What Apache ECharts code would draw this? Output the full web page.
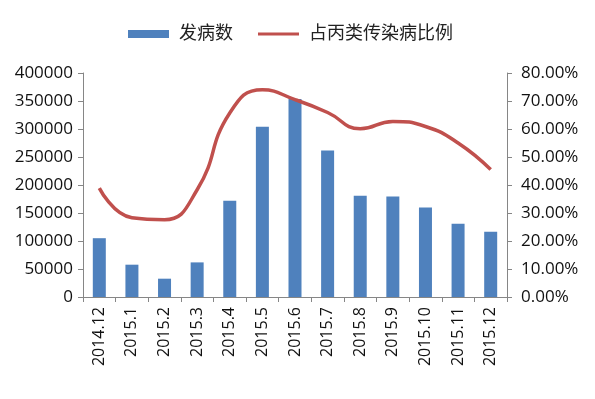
<!DOCTYPE html>
<html>
<head>
<meta charset="utf-8">
<script src="https://cdn.jsdelivr.net/npm/echarts@6/dist/echarts.min.js"></script>
<style>
  html, body { margin: 0; padding: 0; background: #fff; }
  #chart { width: 595px; height: 399px; }
</style>
</head>
<body>
<div id="chart"></div>
<script>
// 月份
const months = ['2014.12', '2015.1', '2015.2', '2015.3', '2015.4', '2015.5', '2015.6',
  '2015.7', '2015.8', '2015.9', '2015.10', '2015.11', '2015.12'];
// 发病数
const cases = [105000, 57700, 32700, 61800, 172000, 304000, 353600,
  261800, 181000, 179600, 160000, 131000, 116600];
// 占丙类传染病比例
const ratio = [0.389, 0.283, 0.276, 0.383, 0.657, 0.740, 0.705,
  0.659, 0.601, 0.627, 0.609, 0.550, 0.455];

const leftTicks = { min: 0, max: 400000, interval: 50000 };
const rightTicks = { min: 0, max: 0.8, interval: 0.1 };

const font = '"Open Sans", "Noto Sans CJK SC", sans-serif';
const axisGray = '#868686';

const chart = echarts.init(document.getElementById('chart'), null, { renderer: 'canvas' });

const option = {
  animation: false,
  textStyle: { fontFamily: font },
  legend: {
    left: 123,
    top: 20,
    itemWidth: 41,
    itemHeight: 8,
    itemGap: 25,
    textStyle: { fontSize: 18, color: '#222', padding: [0, 0, 0, 5], fontFamily: font },
    data: [
      { name: '发病数', icon: 'rect' },
      { name: '占丙类传染病比例', icon: 'path://M0,0 L40,0 L40,3 L0,3 Z' }
    ]
  },
  grid: { left: 83, right: 88, top: 73, bottom: 102, containLabel: false },
  xAxis: {
    type: 'category',
    data: months,
    axisLine: { lineStyle: { color: axisGray } },
    axisTick: { show: true, length: 5, lineStyle: { color: axisGray } },
    axisLabel: { rotate: 90, fontSize: 16, color: '#111', margin: 10, interval: 0 }
  },
  yAxis: [
    {
      type: 'value',
      min: leftTicks.min,
      max: leftTicks.max,
      interval: leftTicks.interval,
      splitLine: { show: false },
      axisLine: { show: true, lineStyle: { color: axisGray } },
      axisTick: { show: true, length: 5, lineStyle: { color: axisGray } },
      axisLabel: {
        fontSize: 17, color: '#111', margin: 10,
        formatter: function (v) { return String(v); }
      }
    },
    {
      type: 'value',
      position: 'right',
      min: rightTicks.min,
      max: rightTicks.max,
      interval: rightTicks.interval,
      splitLine: { show: false },
      axisLine: { show: true, lineStyle: { color: axisGray } },
      axisTick: { show: true, length: 5, lineStyle: { color: axisGray } },
      axisLabel: {
        fontSize: 17, color: '#111', margin: 14,
        formatter: function (v) { return (v * 100).toFixed(2) + '%'; }
      }
    }
  ],
  series: [
    {
      name: '发病数',
      type: 'bar',
      data: cases,
      barWidth: 13,
      itemStyle: { color: '#4F81BD' },
      z: 2
    },
    {
      name: '占丙类传染病比例',
      type: 'line',
      yAxisIndex: 1,
      data: ratio,
      smooth: 0.5,
      symbol: 'none',
      lineStyle: { color: '#C0504D', width: 3.5 },
      itemStyle: { color: '#C0504D' },
      z: 3
    }
  ]
};

chart.setOption(option);
</script>
</body>
</html>
